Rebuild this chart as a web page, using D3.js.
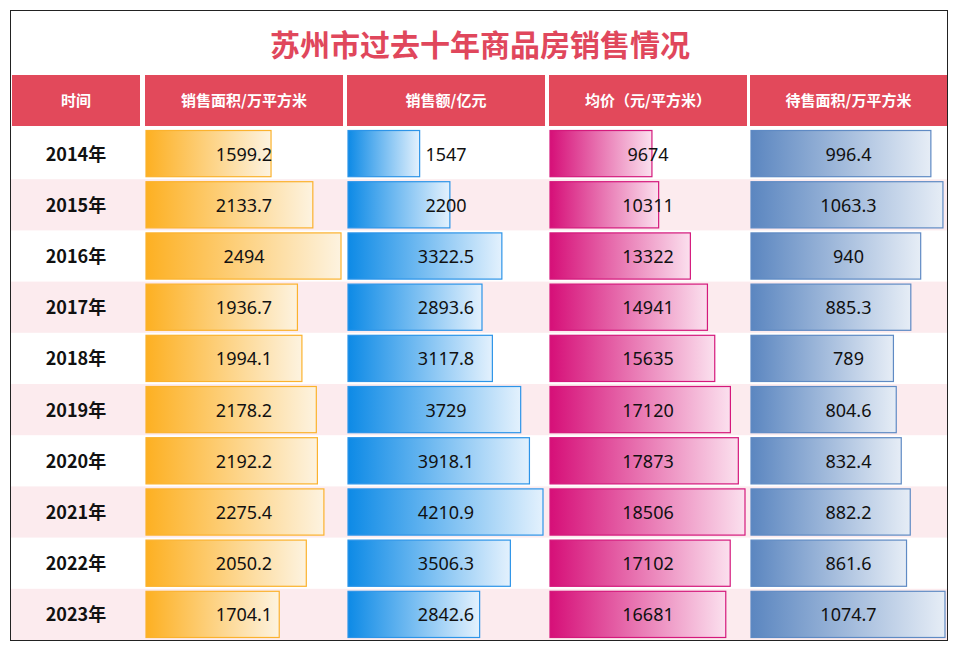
<!DOCTYPE html><html><head><meta charset="utf-8"><script src="https://cdn.jsdelivr.net/npm/d3@7"></script>
<style>body{margin:0;background:#fff}</style></head><body><svg id="c" width="960" height="652"></svg>
<script>
const years=["2014年","2015年","2016年","2017年","2018年","2019年","2020年","2021年","2022年","2023年"];
const headers=["时间","销售面积/万平方米","销售额/亿元","均价（元/平方米）","待售面积/万平方米"];
const area=[1599.2,2133.7,2494,1936.7,1994.1,2178.2,2192.2,2275.4,2050.2,1704.1];
const sales=[1547,2200,3322.5,2893.6,3117.8,3729,3918.1,4210.9,3506.3,2842.6];
const price=[9674,10311,13322,14941,15635,17120,17873,18506,17102,16681];
const stock=[996.4,1063.3,940,885.3,789,804.6,832.4,882.2,861.6,1074.7];
const series=[area,sales,price,stock];
const colors=[["#fdb022","#fdf3e0","#fbb22e"],["#0d8ae6","#e3f1fd","#2d94e8"],["#d60f78","#fbe0ee","#d4197c"],["#5b86c0","#e6edf6","#5f8ac4"]];
const svg=d3.select("#c");
svg.append("rect").attr("x",10.5).attr("y",10.5).attr("width",937).attr("height",630).attr("fill","#fff");
svg.append("text").attr("x",480).attr("y",56).attr("text-anchor","middle").attr("font-family","Noto Sans CJK SC").attr("font-weight","bold").attr("font-size",30).attr("fill","#e0475c").text("苏州市过去十年商品房销售情况");
const colX=[12,145,347,549,750],colW=[128,198,198,198,197];
const y=d3.scaleBand().domain(years).range([128,640]);
headers.forEach((h,i)=>{svg.append("rect").attr("x",colX[i]).attr("y",75).attr("width",colW[i]).attr("height",51).attr("fill","#e2495b");
svg.append("text").attr("x",colX[i]+colW[i]/2).attr("y",106).attr("text-anchor","middle").attr("font-family","Noto Sans CJK SC").attr("font-weight","bold").attr("font-size",15).attr("fill","#fff").text(h);});
years.forEach((yr,j)=>{ if(j%2==1) svg.append("rect").attr("x",11).attr("y",y(yr)).attr("width",936).attr("height",y.bandwidth()).attr("fill","#fcebee");
svg.append("text").attr("x",76).attr("y",y(yr)+y.bandwidth()/2+7).attr("text-anchor","middle").attr("font-family","Noto Sans CJK SC").attr("font-weight","bold").attr("font-size",18).attr("fill","#111").text(yr);});
const defs=svg.append("defs");
series.forEach((s,k)=>{const i=k+1;
 const g=defs.append("linearGradient").attr("id","g"+k);
 g.append("stop").attr("offset","0%").attr("stop-color",colors[k][0]);
 g.append("stop").attr("offset","100%").attr("stop-color",colors[k][1]);
 const x=d3.scaleLinear().domain([0,d3.max(s)]).range([0,colW[i]-3]);
 svg.selectAll(null).data(s).join("rect").attr("x",colX[i]+1).attr("y",(d,j)=>y(years[j])+2.5).attr("width",d=>x(d)).attr("height",y.bandwidth()-5)
 .attr("fill",`url(#g${k})`).attr("stroke",colors[k][2]).attr("stroke-width",1.2);
 svg.selectAll(null).data(s).join("text").attr("x",colX[i]+colW[i]/2).attr("y",(d,j)=>y(years[j])+y.bandwidth()/2+7).attr("text-anchor","middle")
 .attr("font-family","Noto Sans").attr("font-size",18).attr("fill","#111").text(d=>d);
});
svg.append("rect").attr("x",10.5).attr("y",10.5).attr("width",937).attr("height",630).attr("fill","none").attr("stroke","#222");
</script></body></html>
